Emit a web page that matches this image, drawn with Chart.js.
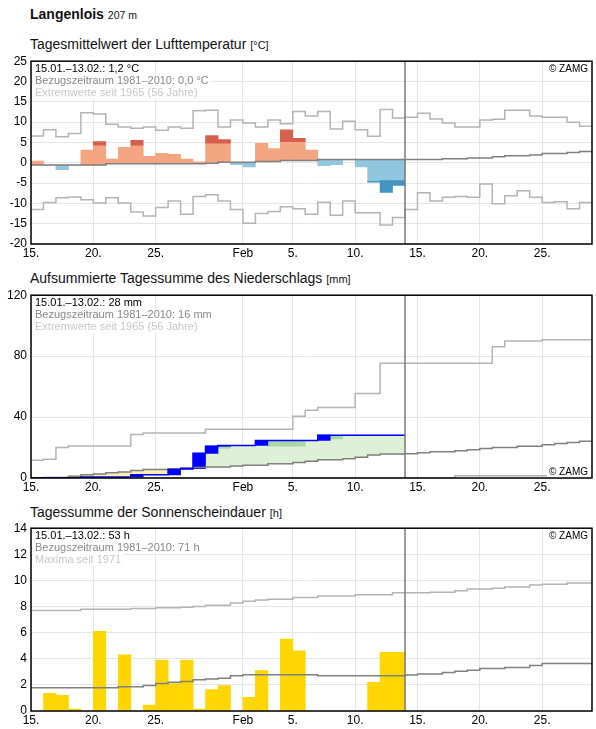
<!DOCTYPE html>
<html lang="de">
<head>
<meta charset="utf-8">
<title>Langenlois</title>
<script src="https://cdn.jsdelivr.net/npm/chart.js@4.4.1/dist/chart.umd.min.js"></script>
<style>
  html, body { margin: 0; padding: 0; background: #fff; }
  #page { position: relative; width: 596px; height: 729px; font-family: Arial, "Liberation Sans", sans-serif; color: #111; }
  .title { position: absolute; left: 30px; font-size: 14px; line-height: 14px; white-space: nowrap; }
  .title .unit { font-size: 11px; }
  .station { font-weight: bold; }
  .station .alt { font-weight: normal; font-size: 10.5px; }
  canvas { position: absolute; left: 0; }
</style>
</head>
<body>
<div id="page">
  <div class="title station" style="top:7px">Langenlois <span class="alt">207 m</span></div>
  <div class="title" style="top:37px">Tagesmittelwert der Lufttemperatur <span class="unit">[°C]</span></div>
  <canvas id="temp-chart" width="596" height="214" style="top:50px"></canvas>
  <div class="title" style="top:271px">Aufsummierte Tagessumme des Niederschlags <span class="unit">[mm]</span></div>
  <canvas id="precip-chart" width="596" height="214" style="top:284px"></canvas>
  <div class="title" style="top:505px">Tagessumme der Sonnenscheindauer <span class="unit">[h]</span></div>
  <canvas id="sun-chart" width="596" height="214" style="top:517px"></canvas>
</div>
<script>
// x-Achse: Tage ab 15.01. (0) bis 01.03. (45)
const axisDays = 45;
const tickDays = [0, 5, 10, 17, 21, 26, 31, 36, 41];
const tickLabels = ['15.', '20.', '25.', 'Feb', '5.', '10.', '15.', '20.', '25.'];

// Lufttemperatur, 15.01.–13.02.
const tempMean = [0.4, -0.6, -1.7, -0.6, 3.1, 5.2, 0.9, 3.8, 5.5, 1.6,
  2.3, 2.1, 0.9, 0.2, 6.7, 5.7, -0.5, -1.0, 4.8, 3.5,
  8.1, 6.0, 3.1, -0.7, -0.5, 0.7, -1.0, -4.8, -7.3, -5.6];
// Grenze hell/dunkel der Balken (null = nur heller Balken)
const tempSplit = [null, null, null, null, null, 4.3, null, null, 4.3, null,
  null, null, null, null, 4.8, 4.8, null, null, null, null,
  5.2, 5.2, null, null, null, null, null, -4.6, -4.4, -4.4];
const tempNormal = [-0.55, -0.55, -0.55, -0.55, -0.55, -0.55, -0.25, -0.25, -0.25, -0.25,
  -0.25, -0.25, -0.25, -0.25, -0.15, 0.1, 0.1, 0.1, 0.3, 0.3,
  0.55, 0.55, 0.55, 0.8, 0.8, 0.8, 0.8, 0.8, 0.8, 0.8,
  0.8, 0.8, 0.8, 0.97, 0.97, 1.2, 1.2, 1.45, 1.7, 1.7,
  1.9, 2.25, 2.25, 2.5, 2.8];
const tempMax = [6.6, 8.1, 6.4, 7.2, 12.3, 12.0, 9.5, 8.8, 8.5, 8.8,
  8.0, 8.8, 8.5, 12.8, 12.9, 8.8, 10.5, 9.8, 8.8, 10.5,
  9.6, 12.6, 11.5, 12.6, 8.3, 10.2, 8.1, 6.5, 13.1, 11.0,
  11.2, 12.2, 10.8, 9.8, 8.8, 8.8, 10.5, 10.7, 12.9, 12.9,
  11.5, 11.2, 11.2, 10.0, 9.0];
const tempMin = [-11.5, -9.8, -8.6, -8.4, -9.1, -9.9, -8.6, -9.9, -12.1, -13.1,
  -11.0, -9.4, -12.7, -8.3, -7.9, -9.4, -11.5, -14.9, -12.5, -12.0,
  -10.8, -11.3, -12.7, -9.7, -12.9, -9.4, -12.3, -12.3, -15.3, -13.5,
  -11.5, -7.4, -9.4, -8.5, -8.3, -8.5, -5.2, -10.1, -8.1, -6.9,
  -8.5, -9.8, -9.6, -11.3, -9.8];

// Niederschlag, aufsummiert [mm]
const precipSum = [0, 0, 0, 0, 0.6, 0.6, 0.6, 0.6, 2.1, 2.1,
  2.1, 5.6, 6.2, 16.2, 20.9, 21.4, 21.4, 21.4, 24.6, 24.6,
  24.6, 24.6, 24.6, 28.1, 28.1, 28.1, 28.1, 28.1, 28.1, 28.1];
const precipShade = [null, null, null, null, null, null, null, null, null, null,
  null, null, null, null, null, [19.4, 21.0], null, null, null, [20.9, 24.4],
  [20.9, 24.4], [20.9, 24.4], null, null, [25.7, 27.6], null, null, null, null, null];
const precipNormal = [0.1, 0.4, 0.4, 1.2, 2.1, 2.7, 3.4, 4.0, 4.9, 5.5,
  5.6, 6.0, 6.5, 6.9, 7.3, 7.3, 7.8, 8.4, 8.4, 9.3,
  9.3, 10.1, 11.0, 11.9, 11.9, 12.7, 13.6, 15.1, 15.8, 15.8,
  16.0, 16.6, 17.3, 17.3, 17.9, 18.6, 19.4, 20.1, 20.1, 20.9,
  20.9, 21.8, 22.7, 23.3, 24.2];
const precipMax = [11.7, 12.3, 20.1, 21.0, 21.0, 21.0, 21.0, 21.0, 28.5, 29.6,
  29.6, 29.6, 29.6, 29.6, 32.0, 32.0, 32.0, 32.0, 32.0, 32.0,
  32.0, 40.6, 44.5, 46.2, 46.2, 46.2, 55.5, 55.5, 75.3, 75.3,
  75.3, 75.3, 75.3, 75.3, 75.3, 75.3, 75.3, 86.1, 90.0, 90.0,
  90.0, 90.7, 90.7, 90.7, 90.7];
const precipMin = [0, 0, 0, 0, 0, 0, 0, 0, 0, 0,
  0, 0, 0, 0, 0, 0, 0, 0, 0, 0,
  0, 0, 0, 0, 0, 0, 0, 0, 0, 0,
  0, 0, 0, 0, 1.5, 1.5, 1.5, 1.5, 1.5, 1.5,
  1.5, 1.5, 1.5, 1.5, 1.5];

// Sonnenscheindauer [h]
const sunHours = [0, 1.35, 1.2, 0.15, 0, 6.1, 0, 4.3, 0, 0.45,
  3.9, 2.1, 3.9, 0.15, 1.65, 1.95, 0, 1.05, 3.1, 0,
  5.5, 4.6, 0, 0, 0, 0, 0, 2.2, 4.5, 4.5];
const sunNormal = [1.78, 1.78, 1.78, 1.78, 1.78, 1.78, 1.78, 1.85, 1.85, 1.95,
  2.1, 2.2, 2.25, 2.4, 2.45, 2.5, 2.7, 2.78, 2.78, 2.78,
  2.78, 2.78, 2.78, 2.7, 2.7, 2.7, 2.7, 2.7, 2.7, 2.7,
  2.75, 2.83, 2.83, 2.95, 3.05, 3.12, 3.25, 3.25, 3.33, 3.33,
  3.48, 3.63, 3.63, 3.63, 3.63];
const sunMax = [7.7, 7.7, 7.7, 7.7, 7.8, 7.8, 7.8, 7.8, 7.85, 7.85,
  7.9, 7.9, 7.95, 8.0, 8.1, 8.1, 8.28, 8.4, 8.5, 8.55,
  8.55, 8.7, 8.7, 8.8, 8.8, 8.8, 8.9, 8.9, 8.9, 9.05,
  9.05, 9.05, 9.1, 9.1, 9.2, 9.35, 9.35, 9.4, 9.5, 9.5,
  9.65, 9.7, 9.7, 9.8, 9.8];

const FONT = 'Arial, "Liberation Sans", sans-serif';
Chart.defaults.font.family = FONT;
Chart.defaults.font.size = 12;
Chart.defaults.color = '#000';

const GRID = '#e6e6e6';
const EXTREME = '#b4b4b4';
const NORMAL = '#808080';

function stepLine(values) {
  const pts = values.map((v, i) => ({ x: i, y: v }));
  pts.push({ x: values.length, y: values[values.length - 1] });
  return pts;
}

function lineSet(values, color, order) {
  return {
    type: 'line', data: stepLine(values), stepped: true,
    borderColor: color, borderWidth: 1.5, pointRadius: 0, fill: false, order,
  };
}

function barSet(points, colors, order) {
  return {
    type: 'bar', data: points, backgroundColor: colors, borderWidth: 0,
    barPercentage: 1, categoryPercentage: 1, grouped: false, order,
  };
}

// Rahmen, Ende-Linie, Infotexte, © ZAMG
const panelDecor = {
  id: 'panelDecor',
  afterDatasetsDraw(chart, args, opts) {
    const { ctx, chartArea: a } = chart;
    const xs = chart.scales.x;
    ctx.save();

    const xe = Math.round(xs.getPixelForValue(opts.lastDay));
    ctx.strokeStyle = '#7a7a7a';
    ctx.lineWidth = 1.5;
    ctx.beginPath();
    ctx.moveTo(xe, a.top);
    ctx.lineTo(xe, a.bottom);
    ctx.stroke();

    ctx.font = '11px ' + FONT;
    ctx.textBaseline = 'middle';
    opts.lines.forEach((l, i) => {
      const y = a.top + 7.5 + i * 12;
      const w = ctx.measureText(l.text).width;
      ctx.fillStyle = '#fff';
      ctx.fillRect(a.left + 2, y - 6, w + 4, 12);
      ctx.fillStyle = l.color;
      ctx.fillText(l.text, a.left + 4, y);
    });

    ctx.font = '10px ' + FONT;
    const zt = '© ZAMG';
    const zw = ctx.measureText(zt).width;
    const zy = opts.zamgBottom ? a.bottom - 6 : a.top + 8;
    ctx.fillStyle = '#fff';
    ctx.fillRect(a.right - zw - 6, zy - 6, zw + 5, 12);
    ctx.fillStyle = '#000';
    ctx.textAlign = 'right';
    ctx.fillText(zt, a.right - 4, zy);

    ctx.strokeStyle = '#000';
    ctx.lineWidth = 1.5;
    ctx.strokeRect(a.left, a.top, a.right - a.left, a.bottom - a.top);
    ctx.restore();
  }
};

function baseOptions(yMin, yMax, step, decor) {
  return {
    responsive: false,
    animation: false,
    events: [],
    layout: { padding: { top: 8, right: 4, left: 0, bottom: 0 } },
    plugins: { legend: { display: false }, tooltip: { enabled: false }, panelDecor: decor },
    scales: {
      x: {
        type: 'linear', min: 0, max: axisDays, offset: false,
        afterBuildTicks: s => { s.ticks = tickDays.map(v => ({ value: v })); },
        afterFit: s => { s.height = 20; },
        ticks: { autoSkip: false, maxRotation: 0, padding: 2, callback: v => tickLabels[tickDays.indexOf(v)] },
        grid: { color: GRID, offset: false, drawTicks: false },
        border: { display: false },
      },
      y: {
        min: yMin, max: yMax, beginAtZero: false,
        afterFit: s => { s.width = 31; },
        ticks: { stepSize: step, padding: 4 },
        grid: { color: GRID, drawTicks: false },
        border: { display: false },
      },
    },
  };
}

// --- Temperatur ---
const tempLight = tempMean.map((v, i) => ({ x: i + 0.5, y: [tempNormal[i], tempSplit[i] ?? v] }));
const tempLightColors = tempMean.map((v, i) => v >= tempNormal[i] ? '#f4a582' : '#92c5de');
const tempDarkIdx = tempMean.map((v, i) => i).filter(i => tempSplit[i] !== null);
const tempDark = tempDarkIdx.map(i => ({ x: i + 0.5, y: [tempSplit[i], tempMean[i]] }));
const tempDarkColors = tempDarkIdx.map(i => tempMean[i] >= tempNormal[i] ? '#d6604d' : '#4393c3');

new Chart(document.getElementById('temp-chart'), {
  type: 'bar',
  data: {
    datasets: [
      lineSet(tempNormal, NORMAL, 1),
      lineSet(tempMax, EXTREME, 1),
      lineSet(tempMin, EXTREME, 1),
      barSet(tempDark, tempDarkColors, 3),
      barSet(tempLight, tempLightColors, 4),
    ],
  },
  options: baseOptions(-20, 25, 5, {
    lastDay: tempMean.length,
    lines: [
      { text: '15.01.–13.02.: 1,2 °C', color: '#000' },
      { text: 'Bezugszeitraum 1981–2010: 0,0 °C', color: '#888' },
      { text: 'Extremwerte seit 1965 (56 Jahre)', color: '#c8c8c8' },
    ],
  }),
  plugins: [panelDecor],
});

// --- Niederschlag ---
const precipFill = precipSum.map((v, i) => ({ x: i + 0.5, y: [precipNormal[i], v] }));
const precipFillColors = precipSum.map((v, i) => v >= precipNormal[i] ? '#dcf1d5' : '#fbefb6');
const precipShadeIdx = precipShade.map((v, i) => i).filter(i => precipShade[i] !== null);
const precipShadeBars = precipShadeIdx.map(i => ({ x: i + 0.5, y: precipShade[i] }));
const precipStepIdx = precipSum.map((v, i) => i).filter(i => precipSum[i] > (i ? precipSum[i - 1] : 0));
const precipSteps = precipStepIdx.map(i => ({ x: i + 0.5, y: [i ? precipSum[i - 1] : 0, precipSum[i]] }));

new Chart(document.getElementById('precip-chart'), {
  type: 'bar',
  data: {
    datasets: [
      lineSet(precipSum, '#0000ff', 1),
      lineSet(precipNormal, NORMAL, 2),
      lineSet(precipMax, EXTREME, 2),
      lineSet(precipMin, EXTREME, 2),
      barSet(precipSteps, '#0000ff', 3),
      barSet(precipShadeBars, '#a6d7a6', 4),
      barSet(precipFill, precipFillColors, 5),
    ],
  },
  options: baseOptions(0, 120, 40, {
    lastDay: precipSum.length,
    zamgBottom: true,
    lines: [
      { text: '15.01.–13.02.: 28 mm', color: '#000' },
      { text: 'Bezugszeitraum 1981–2010: 16 mm', color: '#888' },
      { text: 'Extremwerte seit 1965 (56 Jahre)', color: '#c8c8c8' },
    ],
  }),
  plugins: [panelDecor],
});

// --- Sonnenschein ---
const sunIdx = sunHours.map((v, i) => i).filter(i => sunHours[i] > 0);
const sunBars = sunIdx.map(i => ({ x: i + 0.5, y: sunHours[i] }));

new Chart(document.getElementById('sun-chart'), {
  type: 'bar',
  data: {
    datasets: [
      lineSet(sunNormal, NORMAL, 1),
      lineSet(sunMax, EXTREME, 1),
      barSet(sunBars, '#ffd600', 3),
    ],
  },
  options: baseOptions(0, 14, 2, {
    lastDay: sunHours.length,
    lines: [
      { text: '15.01.–13.02.: 53 h', color: '#000' },
      { text: 'Bezugszeitraum 1981–2010: 71 h', color: '#888' },
      { text: 'Maxima seit 1971', color: '#c8c8c8' },
    ],
  }),
  plugins: [panelDecor],
});
</script>
</body>
</html>
